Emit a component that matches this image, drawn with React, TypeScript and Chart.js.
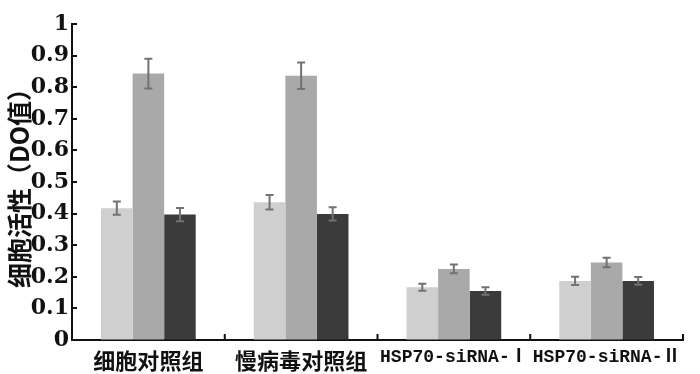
import React, { useEffect, useRef } from "react";
import { Chart, registerables } from "chart.js";

Chart.register(...registerables);

const categories = ["细胞对照组", "慢病毒对照组", "HSP70-siRNA-Ⅰ", "HSP70-siRNA-Ⅱ"];
const seriesLight = [0.417, 0.436, 0.167, 0.187];
const seriesMid = [0.843, 0.836, 0.225, 0.245];
const seriesDark = [0.397, 0.399, 0.155, 0.187];
const errLight = [0.021, 0.023, 0.011, 0.013];
const errMid = [0.047, 0.042, 0.014, 0.015];
const errDark = [0.021, 0.021, 0.012, 0.012];
const yTickLabels = ["0", "0.1", "0.2", "0.3", "0.4", "0.5", "0.6", "0.7", "0.8", "0.9", "1"];
const yTitle = "细胞活性（DO值）";

const errors = [errLight, errMid, errDark];

const errorBarPlugin = {
  id: "errorBars",
  afterDatasetsDraw(chart: any) {
    const ctx = chart.ctx;
    const y = chart.scales.y;
    ctx.save();
    ctx.strokeStyle = "#727272";
    ctx.lineWidth = 2;
    chart.data.datasets.forEach((ds: any, i: number) => {
      const meta = chart.getDatasetMeta(i);
      meta.data.forEach((bar: any, j: number) => {
        const v = ds.data[j];
        const e = errors[i][j];
        const top = y.getPixelForValue(v + e);
        const bot = y.getPixelForValue(v - e);
        const x = bar.x;
        const cap = 4;
        ctx.beginPath();
        ctx.moveTo(x, top);
        ctx.lineTo(x, bot);
        ctx.moveTo(x - cap, top);
        ctx.lineTo(x + cap, top);
        ctx.moveTo(x - cap, bot);
        ctx.lineTo(x + cap, bot);
        ctx.stroke();
      });
    });
    ctx.restore();
  },
};

const axisTickPlugin = {
  id: "innerTicks",
  afterDraw(chart: any) {
    const ctx = chart.ctx;
    const { left, bottom } = chart.chartArea;
    const y = chart.scales.y;
    const x = chart.scales.x;
    ctx.save();
    ctx.strokeStyle = "#111";
    ctx.lineWidth = 2;
    ctx.beginPath();
    y.ticks.forEach((t: any) => {
      if (t.value === 0) return;
      const py = Math.round(y.getPixelForValue(t.value));
      ctx.moveTo(left, py);
      ctx.lineTo(left + 5, py);
    });
    for (let i = 1; i <= categories.length; i++) {
      const px = x.getPixelForValue(i - 0.5);
      ctx.moveTo(px, bottom);
      ctx.lineTo(px, bottom - 6);
    }
    ctx.stroke();
    ctx.restore();
  },
};

export default function App() {
  const ref = useRef<HTMLCanvasElement | null>(null);
  useEffect(() => {
    if (!ref.current) return;
    const chart = new Chart(ref.current, {
      type: "bar",
      data: {
        labels: categories,
        datasets: [
          { label: "A", data: seriesLight, backgroundColor: "#cfcfcf" },
          { label: "B", data: seriesMid, backgroundColor: "#a9a9a9" },
          { label: "C", data: seriesDark, backgroundColor: "#3b3b3b" },
        ],
      },
      options: {
        animation: false,
        responsive: false,
        maintainAspectRatio: false,
        layout: { padding: { top: 24, right: 17, bottom: 0, left: 0 } },
        datasets: { bar: { categoryPercentage: 0.62, barPercentage: 1.0 } },
        plugins: { legend: { display: false }, tooltip: { enabled: false } },
        scales: {
          x: {
            type: "category",
            grid: { display: true, drawOnChartArea: false, drawTicks: false, offset: true },
            border: { display: true, color: "#111", width: 2 },
            ticks: {
              color: "#111",
              padding: 7,
              maxRotation: 0,
              autoSkip: false,
              font: (c: any) =>
                c.index < 2
                  ? { family: "'Noto Sans CJK SC'", size: 22, weight: "bold" }
                  : { family: "'Liberation Mono', 'Noto Sans CJK SC'", size: 18, weight: "bold" },
            },
            afterFit: (s: any) => {
              s.height = 34;
            },
          },
          y: {
            min: 0,
            max: 1,
            grid: { display: true, drawOnChartArea: false, drawTicks: false },
            border: { display: true, color: "#111", width: 2 },
            ticks: {
              stepSize: 0.1,
              color: "#111",
              padding: 3,
              font: { family: "'DejaVu Serif'", size: 22, weight: "bold" },
              callback: (_v: any, i: number) => yTickLabels[i],
            },
            title: {
              display: true,
              text: yTitle,
              color: "#111",
              padding: { top: 4, bottom: 0 },
              font: { family: "'Noto Sans CJK SC'", size: 25, weight: "bold" },
            },
            afterFit: (s: any) => {
              s.width = 72;
            },
          },
        },
      },
      plugins: [errorBarPlugin, axisTickPlugin],
    });
    return () => chart.destroy();
  }, []);
  return (
    <div style={{ position: "fixed", left: 0, top: 0, width: 700, height: 374, background: "#fff" }}>
      <canvas ref={ref} width={700} height={374} style={{ width: 700, height: 374 }} />
    </div>
  );
}
